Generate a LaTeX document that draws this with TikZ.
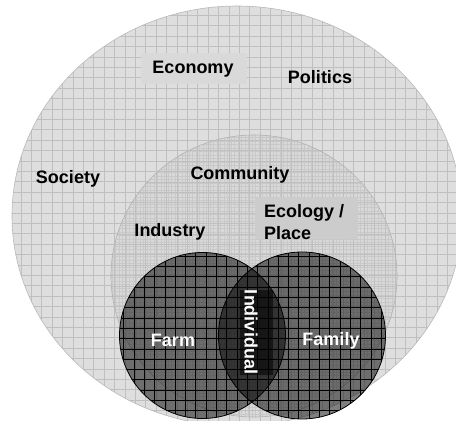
\documentclass[tikz,border=0pt]{standalone}
\usepackage{fontspec}
\setmainfont{Liberation Sans}
\begin{document}
\begin{tikzpicture}[x=1pt,y=1pt,
  lbl/.style={font=\fontsize{18}{22}\selectfont\bfseries, text=black, inner sep=0pt},
  wlbl/.style={lbl, text=white},
  biggrid/.style={draw=gray!50, line width=0.6pt},
  commgrid/.style={draw=gray!42, line width=0.4pt},
  darkgrid/.style={draw=black, line width=0.6pt}
]
\useasboundingbox (0,0) rectangle (456,421);
\fill[white] (0,0) rectangle (456,421);
% Society ellipse
\fill[gray!26] (237,205) ellipse [x radius=225, y radius=210];
\begin{scope}
  \clip (237,205) ellipse [x radius=225, y radius=210];
  \draw[biggrid, step=10.4pt] (0,0) grid (456,421);
\end{scope}
\draw[gray!55, line width=0.6pt] (237,205) ellipse [x radius=225, y radius=210];
% Community circle
\fill[gray!30] (254,145) ellipse [x radius=143, y radius=141];
\begin{scope}
  \clip (254,145) ellipse [x radius=143, y radius=141];
  \draw[commgrid, step=3.5pt] (0,0) grid (456,421);
  \draw[draw=gray!50, line width=0.5pt, step=10.4pt] (0,0) grid (456,421);
\end{scope}
\draw[gray!60, line width=0.6pt] (254,145) ellipse [x radius=143, y radius=141];
% Farm and Family circles
\fill[black, fill opacity=0.5] (202.5,85.5) circle [radius=83];
\fill[black, fill opacity=0.5] (302,85.5) circle [radius=83.5];
\begin{scope}
  \clip (202.5,85.5) circle [radius=83];
  \draw[darkgrid, step=10.3pt] (0,0) grid (456,421);
\end{scope}
\begin{scope}
  \clip (302,85.5) circle [radius=83.5];
  \draw[darkgrid, step=10.3pt] (0,0) grid (456,421);
\end{scope}
\draw[black, line width=0.8pt] (202.5,85.5) circle [radius=83];
\draw[black, line width=0.8pt] (302,85.5) circle [radius=83.5];
% label boxes
\fill[gray!30] (141,337) rectangle (247,368);
\fill[gray!40] (255,182) rectangle (358,224);
\fill[black, fill opacity=0.55] (240,46) rectangle (273,131);
% labels
\node[lbl] (economy) at (193,352) {Economy};
\node[lbl] (politics) at (320,344) {Politics};
\node[lbl] (society) at (68,242) {Society};
\node[lbl] (community) at (240,246) {Community};
\node[lbl] (industry) at (170,189) {Industry};
\node[lbl, align=left, anchor=west] (ecology) at (264,199) {Ecology /\\Place};
\node[wlbl] (farm) at (173,81) {Farm};
\node[wlbl] (family) at (331,80) {Family};
\node[wlbl, rotate=-90] (individual) at (251,89) {Individual};
\end{tikzpicture}
\end{document}
